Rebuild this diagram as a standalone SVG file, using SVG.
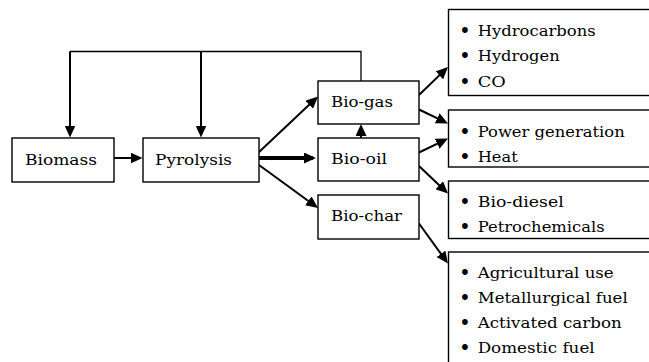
<svg xmlns="http://www.w3.org/2000/svg" width="649" height="362" viewBox="0 0 649 362" font-family="DejaVu Serif, Liberation Serif, serif">
<style>
.box{fill:#fff;stroke:#000;stroke-width:1.4}
text{font-size:15.5px;fill:#000}
text.bu{font-size:20px}
.a{fill:none;stroke:#000;stroke-width:2;marker-end:url(#ah)}
.thin{fill:none;stroke:#000;stroke-width:1.3}
</style>
<defs>
<marker id="ah" markerUnits="userSpaceOnUse" markerWidth="12" markerHeight="11" viewBox="0 0 12 11" refX="9" refY="5.5" orient="auto">
<path d="M0,0 L12,5.5 L0,11 z" fill="#000"/>
</marker>
</defs>
<rect width="649" height="362" fill="#fff"/>
<g id="connectors">
<polyline class="thin" points="70,51.5 361,51.5 361,81"/>
<line class="a" x1="70" y1="51.5" x2="70" y2="134.5"/>
<line class="a" x1="201" y1="51.5" x2="201" y2="134.5"/>
<line class="a" x1="114" y1="158" x2="139.5" y2="158"/>
<line class="a" x1="259" y1="158" x2="313" y2="158" style="stroke-width:4"/>
<line class="a" x1="258" y1="153" x2="315.8" y2="98.6"/>
<line class="a" x1="259" y1="165" x2="315.6" y2="206.2"/>
<line class="a" x1="361" y1="138" x2="361" y2="127"/>
<line class="a" x1="419" y1="95" x2="445.8" y2="69.1"/>
<line class="a" x1="419" y1="109.5" x2="445.3" y2="122.2"/>
<line class="a" x1="419" y1="152.5" x2="445.3" y2="139.8"/>
<line class="a" x1="419" y1="166" x2="445.8" y2="191.4"/>
<line class="a" x1="419" y1="223.5" x2="446.2" y2="261.1"/>
</g>
<g id="biomass">
<rect class="box" x="12" y="138" width="102" height="44"/>
<text x="25" y="165" textLength="72" lengthAdjust="spacingAndGlyphs">Biomass</text>
</g>
<g id="pyrolysis">
<rect class="box" x="143" y="138" width="116" height="44"/>
<text x="155" y="165" textLength="77" lengthAdjust="spacingAndGlyphs">Pyrolysis</text>
</g>
<g id="biogas">
<rect class="box" x="318" y="81" width="101" height="43"/>
<text x="331" y="107" textLength="62" lengthAdjust="spacingAndGlyphs">Bio-gas</text>
</g>
<g id="biooil">
<rect class="box" x="318" y="138" width="101" height="43"/>
<text x="331" y="164" textLength="56" lengthAdjust="spacingAndGlyphs">Bio-oil</text>
</g>
<g id="biochar">
<rect class="box" x="318" y="195" width="101" height="44"/>
<text x="331" y="221" textLength="71" lengthAdjust="spacingAndGlyphs">Bio-char</text>
</g>
<g id="gas-products">
<rect class="box" x="448.5" y="9.5" width="220" height="86"/>
<text class="bu" x="459" y="37.5">•</text><text x="477.7" y="35.7" textLength="118" lengthAdjust="spacingAndGlyphs">Hydrocarbons</text>
<text class="bu" x="459" y="63">•</text><text x="477.7" y="61.2" textLength="82" lengthAdjust="spacingAndGlyphs">Hydrogen</text>
<text class="bu" x="459" y="88.5">•</text><text x="477.7" y="86.7" textLength="28" lengthAdjust="spacingAndGlyphs">CO</text>
</g>
<g id="energy-products">
<rect class="box" x="448.5" y="110" width="220" height="57"/>
<text class="bu" x="459" y="138.5">•</text><text x="477.7" y="136.7" textLength="147" lengthAdjust="spacingAndGlyphs">Power generation</text>
<text class="bu" x="459" y="163.5">•</text><text x="477.7" y="161.7" textLength="40" lengthAdjust="spacingAndGlyphs">Heat</text>
</g>
<g id="oil-products">
<rect class="box" x="448.5" y="181" width="220" height="57.5"/>
<text class="bu" x="459" y="209.1">•</text><text x="477.7" y="207.3" textLength="86" lengthAdjust="spacingAndGlyphs">Bio-diesel</text>
<text class="bu" x="459" y="233.5">•</text><text x="477.7" y="231.7" textLength="127" lengthAdjust="spacingAndGlyphs">Petrochemicals</text>
</g>
<g id="char-products">
<rect class="box" x="448.5" y="252" width="220" height="130"/>
<text class="bu" x="459" y="280.1">•</text><text x="477.7" y="278.3" textLength="136" lengthAdjust="spacingAndGlyphs">Agricultural use</text>
<text class="bu" x="459" y="305.1">•</text><text x="477.7" y="303.3" textLength="150" lengthAdjust="spacingAndGlyphs">Metallurgical fuel</text>
<text class="bu" x="459" y="330.1">•</text><text x="477.7" y="328.3" textLength="144" lengthAdjust="spacingAndGlyphs">Activated carbon</text>
<text class="bu" x="459" y="354.5">•</text><text x="477.7" y="352.7" textLength="117" lengthAdjust="spacingAndGlyphs">Domestic fuel</text>
</g>
</svg>
